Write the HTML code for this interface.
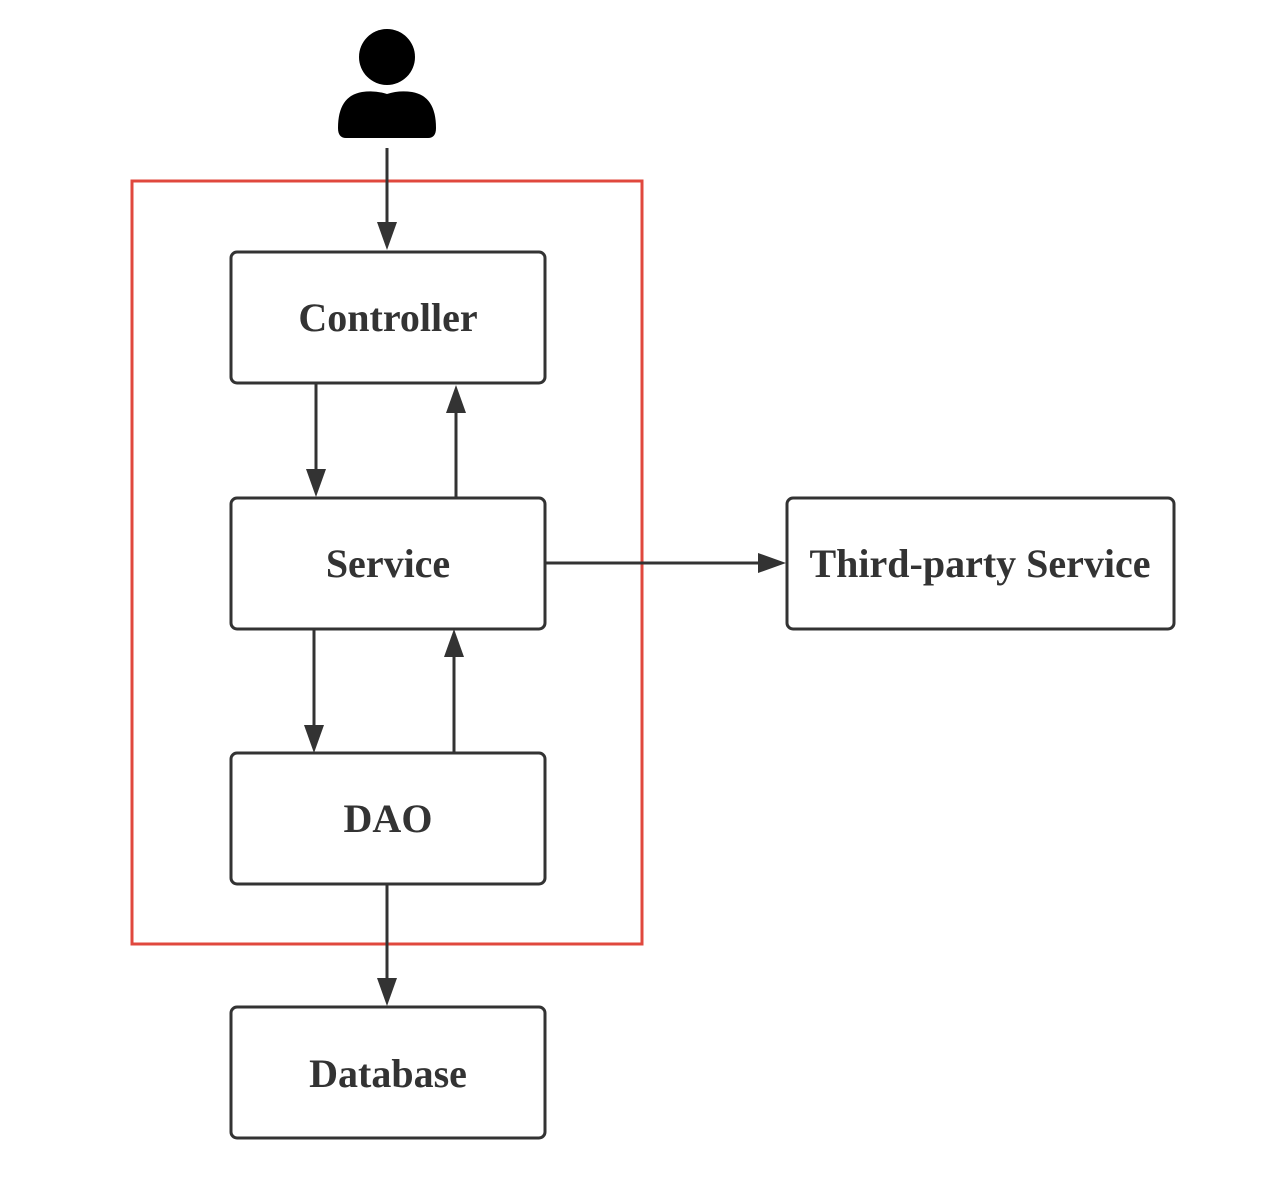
<!DOCTYPE html>
<html><head><meta charset="utf-8"><style>body{margin:0;background:#fff}</style></head><body>
<svg width="1270" height="1190" xmlns="http://www.w3.org/2000/svg">
<rect x="132" y="181" width="510" height="763" fill="none" stroke="#e0483e" stroke-width="3"/>
<g fill="none" stroke="#333" stroke-width="3">
<rect x="231" y="252" width="314" height="131" rx="6"/>
<rect x="231" y="498" width="314" height="131" rx="6"/>
<rect x="231" y="753" width="314" height="131" rx="6"/>
<rect x="231" y="1007" width="314" height="131" rx="6"/>
<rect x="787" y="498" width="387" height="131" rx="6"/>
</g>
<g fill="#333">
<path d="M385.5 148h3v74h-3z"/><path d="M377 222h20l-10 28z"/>
<path d="M314.5 383h3v86h-3z"/><path d="M306 469h20l-10 28z"/>
<path d="M454.5 413h3v85h-3z"/><path d="M446 413h20l-10-28z"/>
<path d="M312.5 629h3v96h-3z"/><path d="M304 725h20l-10 28z"/>
<path d="M452.5 657h3v96h-3z"/><path d="M444 657h20l-10-28z"/>
<path d="M385.5 884h3v94h-3z"/><path d="M377 978h20l-10 28z"/>
<path d="M545 561.5h213v3h-213z"/><path d="M758 553v20l28-10z"/>
</g>
<circle cx="387" cy="57" r="28" fill="#000"/>
<path d="M338 128 Q338 96 362 92 Q375 90 387 94 Q399 90 412 92 Q436 96 436 128 Q436 138 428 138 H346 Q338 138 338 128z" fill="#000"/>
<g font-family="Liberation Serif, serif" font-weight="bold" font-size="40" fill="#333" text-anchor="middle">
<text x="388" y="331">Controller</text>
<text x="388" y="577">Service</text>
<text x="388" y="832">DAO</text>
<text x="388" y="1087">Database</text>
<text x="980" y="577">Third-party Service</text>
</g>
</svg>
</body></html>
